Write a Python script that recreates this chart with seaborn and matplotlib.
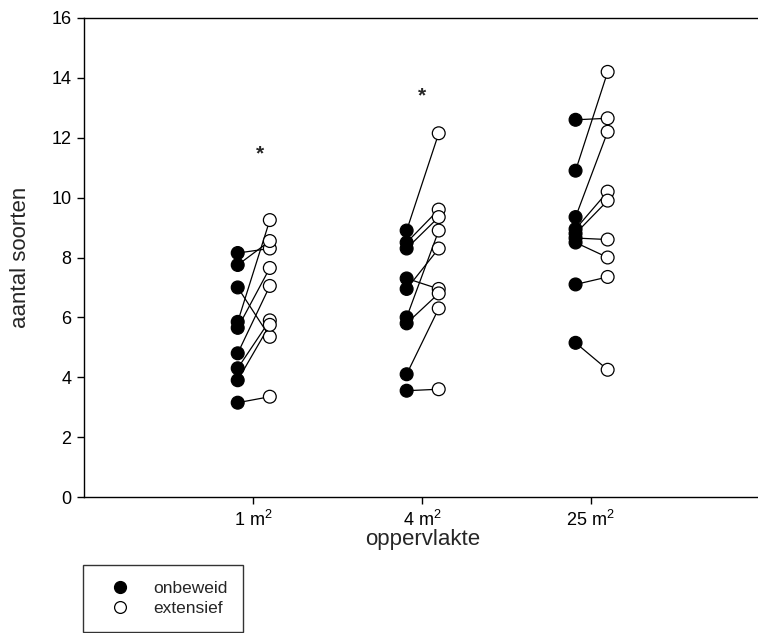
import pandas as pd
import seaborn as sns
import matplotlib.pyplot as plt
from matplotlib.lines import Line2D

# aantal soorten per proefvlak, gepaard (onbeweid -> extensief)
groepen = ["1 m$^2$", "4 m$^2$", "25 m$^2$"]

onbeweid_1 = [8.15, 7.75, 7.0, 5.85, 5.65, 4.8, 4.3, 3.9, 3.15]
extensief_1 = [8.3, 8.55, 5.35, 9.25, 7.65, 7.05, 5.9, 5.75, 3.35]

onbeweid_4 = [8.9, 8.5, 8.3, 7.3, 6.95, 6.0, 5.8, 4.1, 3.55]
extensief_4 = [12.15, 9.6, 9.35, 6.95, 8.3, 8.9, 6.8, 6.3, 3.6]

onbeweid_25 = [12.6, 10.9, 9.35, 8.95, 8.8, 8.65, 8.5, 7.1, 5.15]
extensief_25 = [12.65, 14.2, 12.2, 10.2, 9.9, 8.6, 8.0, 7.35, 4.25]

# significantie-sterretjes
ster_x = [1.04, 2.0]
ster_y = [11.45, 13.4]

paren = [(onbeweid_1, extensief_1), (onbeweid_4, extensief_4), (onbeweid_25, extensief_25)]

rows = []
for gi, (onb, ext) in enumerate(paren):
    for pi, (a, b) in enumerate(zip(onb, ext)):
        pid = f"{gi}_{pi}"
        rows.append({"pos": gi + 1 - 0.09, "waarde": a, "beheer": "onbeweid", "paar": pid})
        rows.append({"pos": gi + 1 + 0.10, "waarde": b, "beheer": "extensief", "paar": pid})
df = pd.DataFrame(rows)

sns.set_style("ticks")
plt.rcParams["font.family"] = ["Liberation Sans", "DejaVu Sans"]
plt.rcParams["mathtext.default"] = "regular"

fig = plt.figure(figsize=(7.58, 6.33), dpi=100)
ax = fig.add_axes([84 / 758, 1 - 497 / 633, 1 - 84 / 758, (497 - 18) / 633])

sns.lineplot(data=df, x="pos", y="waarde", units="paar", estimator=None,
             sort=False, color="black", linewidth=0.9, ax=ax, legend=False)
sns.scatterplot(data=df, x="pos", y="waarde", hue="beheer",
                palette={"onbeweid": "black", "extensief": "white"},
                edgecolor="black", linewidth=0.9, s=85, zorder=3,
                ax=ax, legend=False)

for sx, sy in zip(ster_x, ster_y):
    ax.text(sx, sy, "*", ha="center", va="center", fontsize=15, fontweight="bold")

ax.set_xlim(0, 3.99)
ax.set_ylim(0, 16)
ax.set_xticks([1, 2, 3])
ax.set_xticklabels(groepen)
ax.set_yticks(range(0, 17, 2))
ax.tick_params(direction="out", length=5, width=1, labelsize=13, colors="black", pad=4)

for side in ["left", "bottom", "top"]:
    ax.spines[side].set_color("black")
    ax.spines[side].set_linewidth(1)
ax.spines["right"].set_visible(False)

ax.set_xlabel("oppervlakte", fontsize=16)
ax.set_ylabel("aantal soorten", fontsize=16)
ax.xaxis.set_label_coords(0.503, -0.066)
ax.yaxis.set_label_coords(-0.078, 0.5)

handles = [
    Line2D([], [], linestyle="none", marker="o", markersize=8.5,
           markerfacecolor="black", markeredgecolor="black"),
    Line2D([], [], linestyle="none", marker="o", markersize=8.5,
           markerfacecolor="white", markeredgecolor="black", markeredgewidth=0.9),
]
leg = fig.legend(handles, ["onbeweid", "extensief"], loc="upper left",
                 bbox_to_anchor=(83 / 758, 1 - 565 / 633), fontsize=12.5,
                 frameon=True, fancybox=False, borderpad=0.9,
                 handlelength=2.5, handletextpad=0.65, labelspacing=0.3,
                 borderaxespad=0)
leg.get_frame().set_edgecolor("black")
leg.get_frame().set_linewidth(1)

fig.savefig("out.png", dpi=100, facecolor="white")
